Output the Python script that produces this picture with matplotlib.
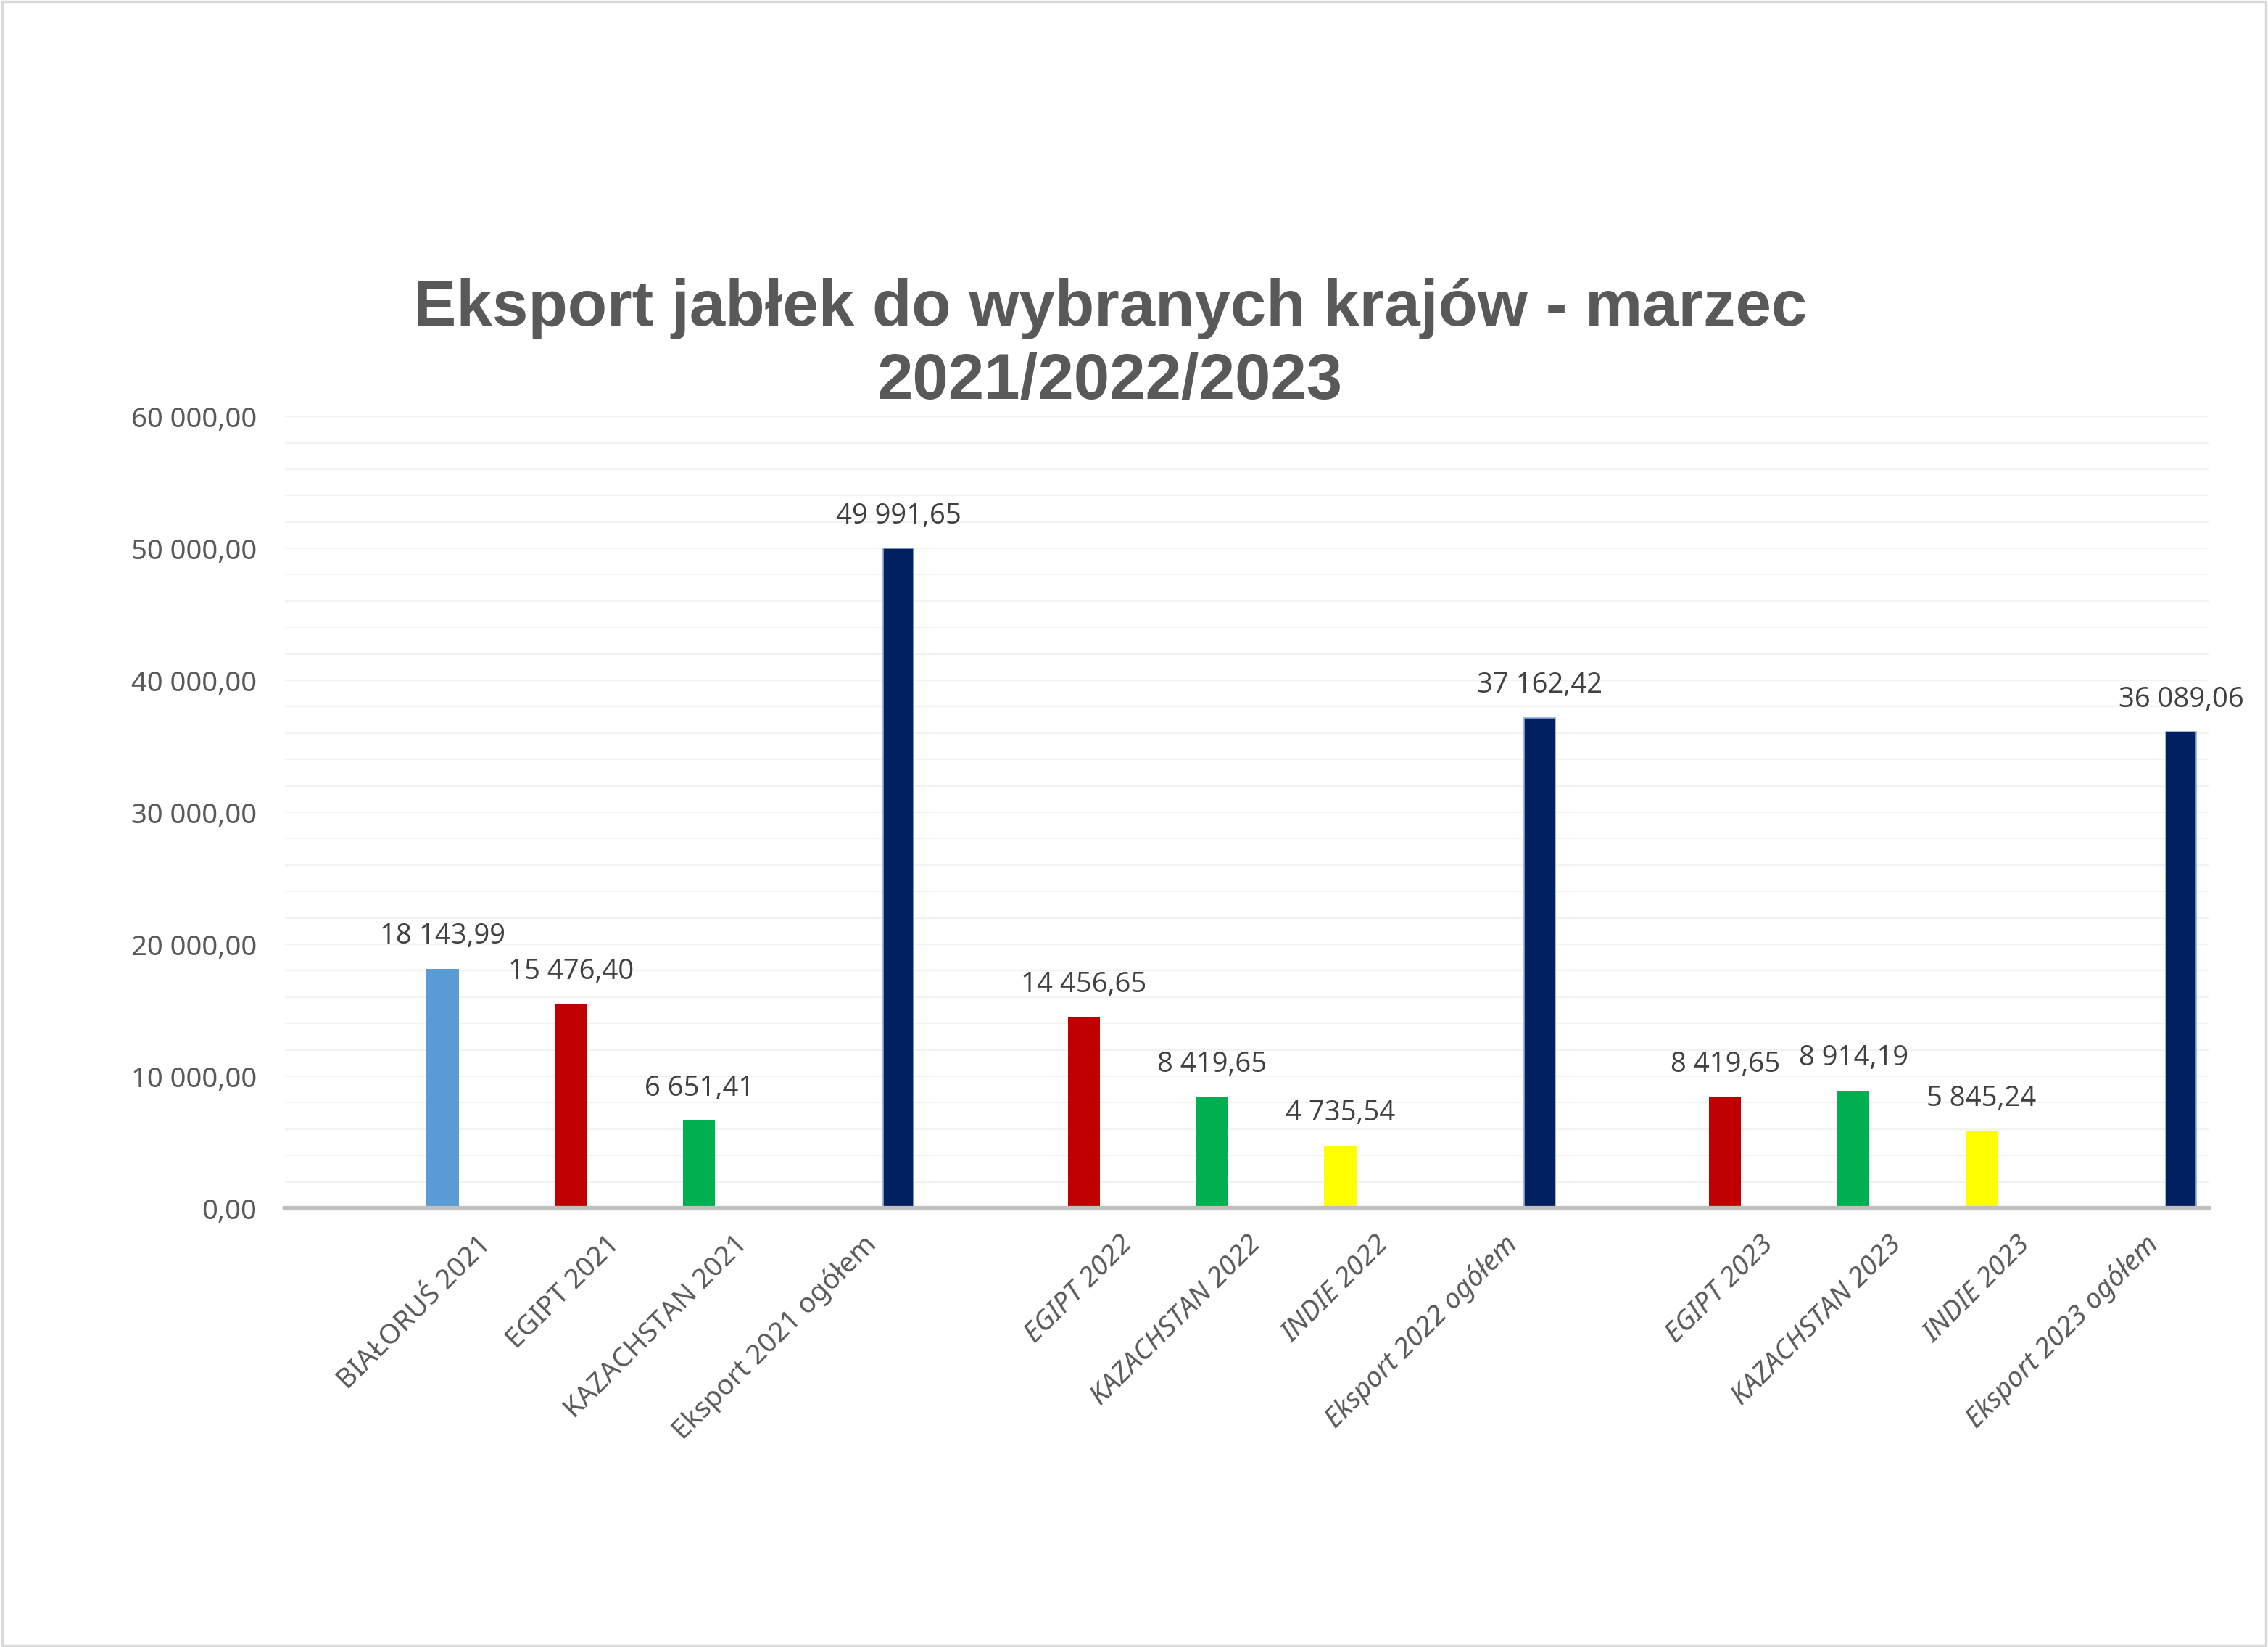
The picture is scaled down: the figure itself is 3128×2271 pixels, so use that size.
import matplotlib.pyplot as plt
from matplotlib.patches import Rectangle
import numpy as np

categories = ['', 'BIAŁORUŚ 2021', 'EGIPT 2021', 'KAZACHSTAN 2021', 'Eksport 2021 ogółem',
              '', 'EGIPT 2022', 'KAZACHSTAN 2022', 'INDIE 2022', 'Eksport 2022 ogółem',
              '', 'EGIPT 2023', 'KAZACHSTAN 2023', 'INDIE 2023', 'Eksport 2023 ogółem']
country_values = [None, 18143.99, 15476.40, 6651.41, None,
                  None, 14456.65, 8419.65, 4735.54, None,
                  None, 8419.65, 8914.19, 5845.24, None]
country_colors = [None, '#5b9bd5', '#c00000', '#00b050', None,
                  None, '#c00000', '#00b050', '#ffff00', None,
                  None, '#c00000', '#00b050', '#ffff00', None]
total_values = [None, None, None, None, 49991.65,
                None, None, None, None, 37162.42,
                None, None, None, None, 36089.06]
italic_labels = [False] * 5 + [True] * 10

title = 'Eksport jabłek do wybranych krajów - marzec\n2021/2022/2023'
grey = '#595959'


def fmt(v):
    s = f'{v:,.2f}'
    return s.replace(',', ' ').replace('.', ',')


fig = plt.figure(figsize=(31.28, 22.71), dpi=100)
ax = fig.add_axes([0.1256, 0.2664, 0.8482, 0.4808])

x = np.arange(len(categories))
width = 0.25

for i, (v, c) in enumerate(zip(country_values, country_colors)):
    if v is None:
        continue
    ax.bar(x[i] - 0.27, v, width, color=c, zorder=3)
    ax.annotate(fmt(v), (x[i] - 0.27, v), xytext=(0, 32), textcoords='offset points',
                ha='center', va='center', fontsize=27.5, color='#404040',
                family='Open Sans')

for i, v in enumerate(total_values):
    if v is None:
        continue
    ax.bar(x[i] + 0.285, v, width * 0.96, color='#002060', edgecolor='#8faadc',
           linewidth=1.2, zorder=3)
    ax.annotate(fmt(v), (x[i] + 0.285, v), xytext=(0, 32), textcoords='offset points',
                ha='center', va='center', fontsize=27.5, color='#404040',
                family='Open Sans')

ax.set_xlim(-0.5, len(categories) - 0.5)
ax.set_ylim(0, 60000)

ax.set_yticks(np.arange(0, 60001, 10000))
ax.set_yticks(np.arange(0, 60001, 2000), minor=True)
ax.set_yticklabels([fmt(t) for t in np.arange(0, 60001, 10000)],
                   fontsize=27.5, color=grey, family='Noto Sans')
ax.yaxis.grid(True, which='both', color='#f2f2f2', linewidth=1.6, zorder=0)
ax.tick_params(axis='y', which='both', length=0, pad=28)

ax.set_xticks(x)
ax.set_xticklabels(categories)
for lab, it in zip(ax.get_xticklabels(), italic_labels):
    lab.set_rotation(45)
    lab.set_rotation_mode('anchor')
    lab.set_ha('right')
    lab.set_va('top')
    lab.set_fontsize(27.5)
    lab.set_color(grey)
    lab.set_family('Noto Sans')
    lab.set_style('italic' if it else 'normal')
ax.tick_params(axis='x', length=0, pad=22)

for s in ['top', 'right', 'left']:
    ax.spines[s].set_visible(False)
ax.spines['bottom'].set_color('#bfbfbf')
ax.spines['bottom'].set_linewidth(4.5)
ax.spines['bottom'].set_zorder(4)

fig.text(0.4895, 0.7905, title, ha='center', va='center', fontsize=64,
         fontweight='bold', color=grey, family='Liberation Sans', linespacing=1.26)

fig.patches.append(Rectangle((0.0008, 0.001), 0.9984, 0.998, transform=fig.transFigure,
                             fill=False, edgecolor='#d9d9d9', linewidth=2.5))

fig.savefig('out.png', dpi=100, facecolor='white')
